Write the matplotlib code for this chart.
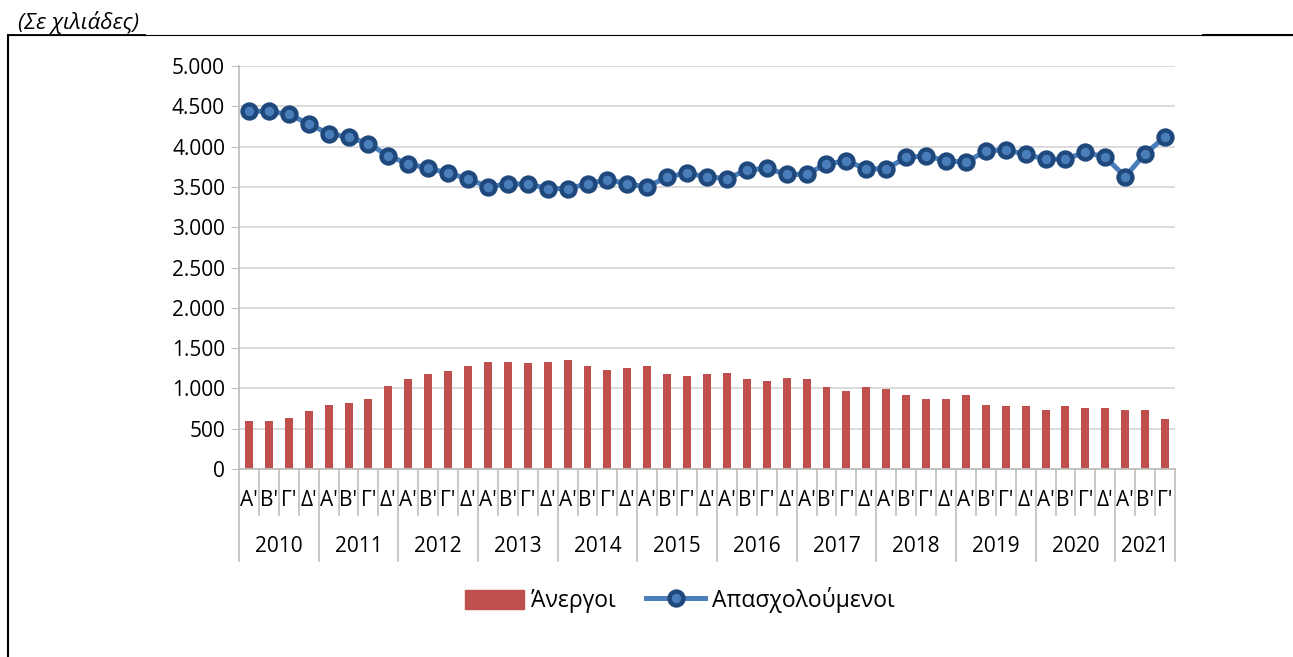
import matplotlib
matplotlib.use("Agg")
import matplotlib.pyplot as plt
import matplotlib.patches as mpatches
from matplotlib.lines import Line2D
from matplotlib.ticker import FuncFormatter

plt.rcParams["font.family"] = ["Open Sans", "DejaVu Sans"]

# ── data (thousands) ───────────────────────────────────────────────────
years = ["2010", "2011", "2012", "2013", "2014", "2015", "2016",
         "2017", "2018", "2019", "2020", "2021"]
quarters = ["Α'", "Β'", "Γ'", "Δ'"]
n_quarters_per_year = [4, 4, 4, 4, 4, 4, 4, 4, 4, 4, 4, 3]

unemployed = [600, 600, 636, 714, 793, 814, 873, 1035,
              1113, 1176, 1213, 1272, 1329, 1329, 1309, 1329,
              1350, 1272, 1234, 1251, 1272, 1176, 1151, 1176,
              1190, 1113, 1092, 1135, 1113, 1014, 973, 1014,
              993, 914, 873, 873, 914, 793, 777, 777,
              736, 777, 756, 756, 736, 736, 615]

employed = [4439, 4439, 4402, 4281, 4160, 4118, 4037, 3885,
            3787, 3730, 3673, 3600, 3500, 3537, 3537, 3480,
            3480, 3537, 3590, 3537, 3500, 3627, 3668, 3627,
            3602, 3709, 3730, 3656, 3656, 3787, 3820, 3725,
            3725, 3865, 3885, 3824, 3808, 3943, 3963, 3902,
            3845, 3845, 3930, 3869, 3627, 3914, 4118]

# ── colours ────────────────────────────────────────────────────────────
C_BAR = "#C0504D"
C_LINE = "#4A7EBB"
C_MARK = "#1F497D"
C_GRID = "#D9D9D9"
C_AXIS = "#BFBFBF"
FS = 15

W, H = 1293, 657
fig = plt.figure(figsize=(W / 100, H / 100), dpi=100)

# plot area in pixel coords
X0, X1, Y_TOP, Y_BOT = 239, 1175, 66, 469
ax = fig.add_axes([X0 / W, 1 - Y_BOT / H, (X1 - X0) / W, (Y_BOT - Y_TOP) / H])

x = list(range(len(unemployed)))
ax.bar(x, unemployed, width=0.4, color=C_BAR, zorder=2)
ax.plot(x, employed, color=C_LINE, lw=3.6, marker="o", markersize=10,
        markerfacecolor=C_LINE, markeredgecolor=C_MARK, markeredgewidth=3.2,
        zorder=3)

ax.set_xlim(-0.5, len(x) - 0.5)
ax.set_ylim(0, 5000)
ax.set_yticks(range(0, 5001, 500))
ax.yaxis.set_major_formatter(FuncFormatter(lambda v, p: f"{int(v):,}".replace(",", ".")))
ax.tick_params(axis="y", length=6, color=C_AXIS, labelsize=FS, pad=4)
ax.set_xticks([])
ax.grid(axis="y", color=C_GRID, lw=1.3, zorder=0)
ax.set_axisbelow(True)
for s in ["top", "right"]:
    ax.spines[s].set_visible(False)
ax.spines["left"].set_color(C_AXIS)
ax.spines["bottom"].set_color(C_AXIS)
ax.spines["left"].set_linewidth(1.3)
ax.spines["bottom"].set_linewidth(1.3)

# ── two-level category axis ────────────────────────────────────────────
trans = ax.get_xaxis_transform()
ph = Y_BOT - Y_TOP
def ax_y(py):
    return -(py - Y_BOT) / ph

pos = 0
for yr, nq in zip(years, n_quarters_per_year):
    for q in range(nq):
        ax.text(pos + q, ax_y(500), quarters[q], transform=trans, ha="center",
                va="center", fontsize=FS)
        if q > 0:
            ax.add_line(Line2D([pos + q - 0.5] * 2, [0, ax_y(515)], transform=trans,
                               color=C_AXIS, lw=1.2, clip_on=False))
    ax.add_line(Line2D([pos - 0.5] * 2, [0, ax_y(561)], transform=trans,
                       color=C_AXIS, lw=1.2, clip_on=False))
    ax.text(pos + (nq - 1) / 2, ax_y(547), yr, transform=trans, ha="center",
            va="center", fontsize=FS)
    pos += nq
ax.add_line(Line2D([pos - 0.5] * 2, [0, ax_y(561)], transform=trans,
                   color=C_AXIS, lw=1.2, clip_on=False))

# ── legend ─────────────────────────────────────────────────────────────
handles = [mpatches.Patch(color=C_BAR, label="Άνεργοι"),
           Line2D([], [], color=C_LINE, lw=3.6, marker="o", markersize=10,
                  markerfacecolor=C_LINE, markeredgecolor=C_MARK,
                  markeredgewidth=3.2, label="Απασχολούμενοι")]
fig.legend(handles=handles, loc="center", bbox_to_anchor=(680 / W, 1 - 600 / H),
           ncol=2, frameon=False, fontsize=16.5, handlelength=2.6, handleheight=0.9,
           handletextpad=0.3, columnspacing=1.3, numpoints=1)

# ── title and frame ────────────────────────────────────────────────────
fig.text(18 / W, 1 - 22 / H, "(Σε χιλιάδες)", ha="left", va="center",
         fontsize=16, style="italic")
fig.add_artist(Line2D([8 / W, 1], [1 - 35 / H] * 2, color="black", lw=0.8))
fig.add_artist(Line2D([8 / W, 145 / W], [1 - 35 / H] * 2, color="black", lw=1.3))
fig.add_artist(Line2D([1203 / W, 1], [1 - 35 / H] * 2, color="black", lw=1.5))
fig.add_artist(Line2D([8 / W] * 2, [1 - 35 / H, 0], color="black", lw=1.5))

fig.savefig("out.png", dpi=100)
